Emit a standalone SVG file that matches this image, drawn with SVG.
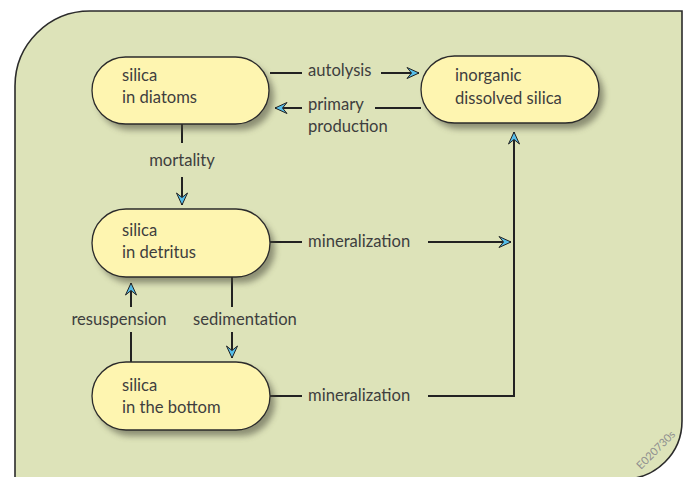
<svg xmlns="http://www.w3.org/2000/svg" width="689" height="477" viewBox="0 0 689 477">
  <style>
    .panel { fill: #dde3b9; stroke: #2b2b2b; stroke-width: 1.6; }
    .node { fill: #fef5b0; stroke: #2b2b2b; stroke-width: 1.3; }
    .shadow { fill: #4a4a3a; opacity: 0.55; filter: url(#soft); }
    .lbl { font-family: Lato, "Open Sans", sans-serif; font-size: 16.6px; fill: #3e3e3e; }
    .link { fill: none; stroke: #222; stroke-width: 2; }
    .tag { font-family: Lato, sans-serif; font-size: 11px; fill: #8e8e8e; }
  </style>
  <defs>
    <filter id="soft" x="-20%" y="-30%" width="140%" height="160%">
      <feGaussianBlur stdDeviation="3"/>
    </filter>
    <marker id="arrow" viewBox="-13 -7 15 14" refX="0" refY="0" markerWidth="15" markerHeight="14" markerUnits="userSpaceOnUse" orient="auto">
      <path d="M0,0 L-12,-5.5 L-7.5,0 L-12,5.5 Z" fill="#55bde9" stroke="#222" stroke-width="1" stroke-linejoin="miter"/>
    </marker>
  </defs>

  <!-- background panel; its bottom edge runs just below the frame -->
  <path class="panel" d="M15,490 L15,86 A75,75 0 0 1 90,11 L682,11 L682,421 A58,58 0 0 1 624,479 L15,479"/>

  <!-- connectors -->
  <g id="connectors">
    <!-- autolysis -->
    <path class="link" d="M270,73 H302"/>
    <path class="link" d="M381,73 H419" marker-end="url(#arrow)"/>
    <!-- primary production -->
    <path class="link" d="M421,108 H375"/>
    <path class="link" d="M302,108 H275" marker-end="url(#arrow)"/>
    <!-- mortality -->
    <path class="link" d="M182,124 V143"/>
    <path class="link" d="M182,177 V205" marker-end="url(#arrow)"/>
    <!-- mineralization from detritus -->
    <path class="link" d="M270,242 H302"/>
    <path class="link" d="M428,242 H511" marker-end="url(#arrow)"/>
    <!-- mineralization from bottom, up to dissolved silica -->
    <path class="link" d="M270,396 H302"/>
    <path class="link" d="M428,396 H514 V132" marker-end="url(#arrow)"/>
    <!-- resuspension -->
    <path class="link" d="M131,362 V332"/>
    <path class="link" d="M131,307 V283" marker-end="url(#arrow)"/>
    <!-- sedimentation -->
    <path class="link" d="M232,277 V307"/>
    <path class="link" d="M232,332 V358" marker-end="url(#arrow)"/>
  </g>

  <!-- connector labels -->
  <g id="labels">
    <text class="lbl" x="308" y="76">autolysis</text>
    <text class="lbl" x="308" y="110">primary</text>
    <text class="lbl" x="308" y="132">production</text>
    <text class="lbl" x="182" y="166" text-anchor="middle">mortality</text>
    <text class="lbl" x="308" y="247">mineralization</text>
    <text class="lbl" x="308" y="401">mineralization</text>
    <text class="lbl" x="119" y="325" text-anchor="middle">resuspension</text>
    <text class="lbl" x="245" y="325" text-anchor="middle">sedimentation</text>
  </g>

  <!-- nodes -->
  <g id="node-diatoms">
    <rect class="shadow" x="97" y="63" width="177" height="67" rx="33.5"/>
    <rect class="node" x="92" y="57" width="177" height="67" rx="33.5"/>
    <text class="lbl" x="122" y="81">silica</text>
    <text class="lbl" x="122" y="103">in diatoms</text>
  </g>
  <g id="node-dissolved">
    <rect class="shadow" x="426" y="62" width="178" height="67" rx="33.5"/>
    <rect class="node" x="421" y="56" width="178" height="67" rx="33.5"/>
    <text class="lbl" x="455" y="81">inorganic</text>
    <text class="lbl" x="455" y="104">dissolved silica</text>
  </g>
  <g id="node-detritus">
    <rect class="shadow" x="97" y="215" width="178" height="68" rx="34"/>
    <rect class="node" x="92" y="209" width="178" height="68" rx="34"/>
    <text class="lbl" x="122" y="236">silica</text>
    <text class="lbl" x="122" y="258">in detritus</text>
  </g>
  <g id="node-bottom">
    <rect class="shadow" x="97" y="368" width="178" height="68" rx="34"/>
    <rect class="node" x="92" y="362" width="178" height="68" rx="34"/>
    <text class="lbl" x="122" y="391">silica</text>
    <text class="lbl" x="122" y="413">in the bottom</text>
  </g>

  <text class="tag" x="641" y="470" transform="rotate(-45 641 470)">E020730s</text>
</svg>
